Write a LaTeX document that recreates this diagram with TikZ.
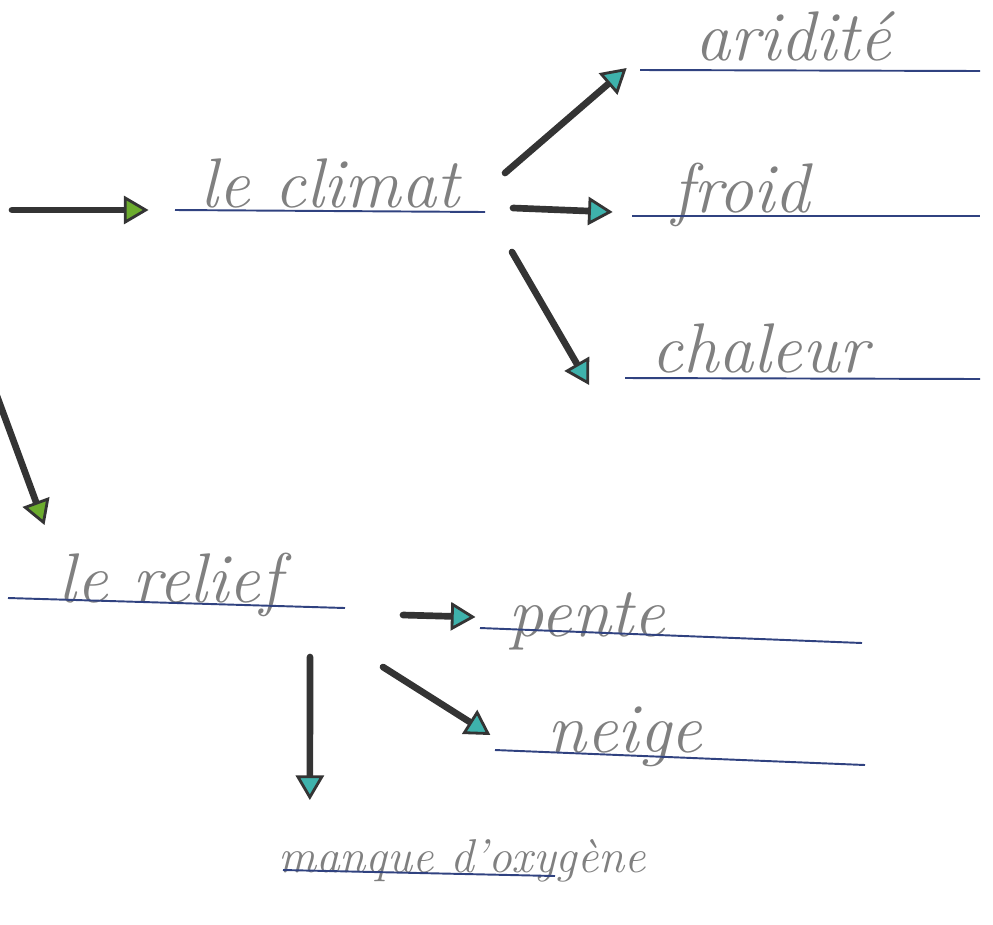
\documentclass[tikz,border=0pt]{standalone}
\usepackage{tikz}
\usetikzlibrary{arrows.meta}

\definecolor{pencil}{RGB}{128,128,128}
\definecolor{inkblue}{RGB}{48,66,128}
\definecolor{felt}{RGB}{52,52,52}
\definecolor{tealtip}{RGB}{62,178,172}
\definecolor{greentip}{RGB}{108,172,46}

\tikzset{
  word/.style={text=pencil, font=\fontsize{40}{44}\selectfont\itshape, inner sep=0pt, anchor=base},
  rule/.style={inkblue, line width=1.1pt},
  link/.style={felt, line width=3.8pt, line cap=round,
    -{Triangle[fill=tealtip, length=14pt, width=16pt, line width=1.6pt]}},
  glink/.style={felt, line width=3.8pt, line cap=round,
    -{Triangle[fill=greentip, length=14pt, width=16pt, line width=1.6pt]}}
}

\begin{document}
\begin{tikzpicture}[x=0.02cm, y=-0.02cm]
%\draw[gray!35] (0,0) grid[step=50] (993,924);
\useasboundingbox (0,0) rectangle (993,924);

% climat branch
\node[word] (climat) at (330,207) {le climat};
\draw[rule] (175,210) -- (485,212);
\node[word] (aridite) at (793,60) {aridité};
\draw[rule] (640,70) -- (980,71);
\node[word] (froid) at (741,212) {froid};
\draw[rule] (632,216) -- (980,216);
\node[word] (chaleur) at (760,372) {chaleur};
\draw[rule] (625,378) -- (980,379);

\coordinate (in1) at (12,210);
\coordinate (c1) at (505,173);
\coordinate (c2) at (513,208);
\coordinate (c3) at (512,252);

\draw[glink] (in1) -- ([shift={(-52,3)}]climat.base west);
\draw[link] (c1) -- ([shift={(-68,8)}]aridite.base west);
\draw[link] (c2) -- ([shift={(-59,0)}]froid.base west);
\draw[link] (c3) -- ([shift={(-62,13)}]chaleur.base west);

% relief branch
\node[word] (relief) at (170,602) {le relief};
\draw[rule] (8,598) -- (345,608);
\node[word] (pente) at (587,636) {pente};
\draw[rule] (480,628) -- (862,643);
\node[word] (neige) at (625,752) {neige};
\draw[rule] (495,750) -- (865,765);
\node[word, font=\fontsize{27}{30}\selectfont\itshape] (manque) at (462,872) {manque d'oxygène};
\draw[rule] (283,870) -- (555,876);

\coordinate (in2) at (-6,388);
\coordinate (r1) at (403,615);
\coordinate (r2) at (383,667);
\coordinate (r3) at (310,657);

\draw[glink] (in2) -- ([shift={(-14,-77)}]relief.base west);
\draw[link] (r1) -- ([shift={(-33,-19)}]pente.base west);
\draw[link] (r2) -- ([shift={(-57,-17)}]neige.base west);
\draw[link] (r3) -- ([shift={(32,-72)}]manque.base west);
\end{tikzpicture}
\end{document}
